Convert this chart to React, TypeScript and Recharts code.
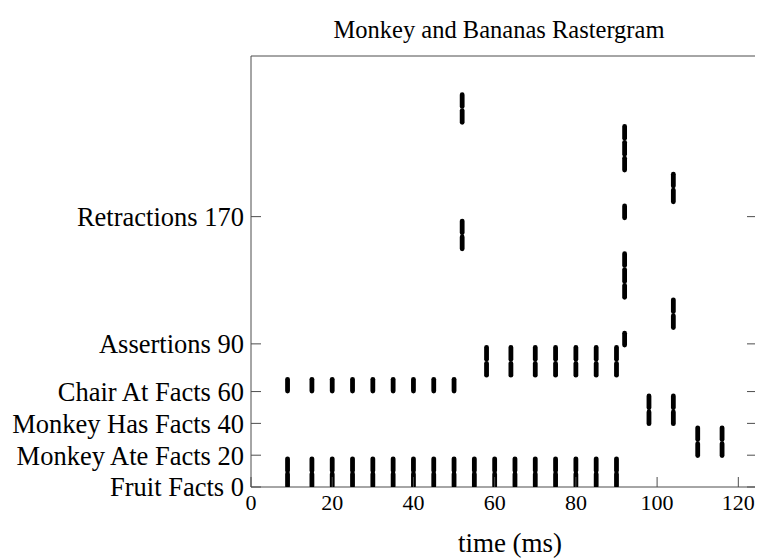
import { ReferenceArea, Scatter, ScatterChart, XAxis, YAxis } from "recharts";

// time (ms) of each spike column, and the fact ids firing there
const fruitTimes = [9, 15, 20, 25, 30, 35, 40, 45, 50, 55, 60, 65, 70, 75, 80, 85, 90];
const fruitIds = [4.5, 14];
const chairTimes = [9, 15, 20, 25, 30, 35, 40, 45, 50];
const chairIds = [64];
const assertTimes = [58, 64, 70, 75, 80, 85, 90];
const assertIds = [74, 84];
const monkeyHasTimes = [98, 104];
const monkeyHasIds = [43.5, 53.5];
const monkeyAteTimes = [110, 116];
const monkeyAteIds = [23.5, 33.5];
const col52Times = [52];
const col52Ids = [153.5, 163.5, 233, 243];
const col92Times = [92];
const col92Ids = [93, 123, 133, 143, 173, 203, 213, 223];
const col104Times = [104];
const col104Ids = [104, 114, 183, 193];

const xTicks = [0, 20, 40, 60, 80, 100, 120];
const rowTicks = [0, 20, 40, 60, 90, 170];
const rowNames = [
  "Fruit Facts 0",
  "Monkey Ate Facts 20",
  "Monkey Has Facts 40",
  "Chair At Facts 60",
  "Assertions 90",
  "Retractions 170",
];

const X_MAX = 124.6;
const Y_MAX = 271;

const groups: [number[], number[]][] = [
  [fruitTimes, fruitIds],
  [chairTimes, chairIds],
  [assertTimes, assertIds],
  [monkeyHasTimes, monkeyHasIds],
  [monkeyAteTimes, monkeyAteIds],
  [col52Times, col52Ids],
  [col92Times, col92Ids],
  [col104Times, col104Ids],
];

const spikes = groups.flatMap(([times, ids]) =>
  times.flatMap((t) => ids.map((id) => ({ t, id })))
);

// chart layout (svg coords)
const W = 755;
const H = 552;
const PLOT_TOP = 48;
const PLOT_LEFT = 243;
const PLOT_RIGHT = 749;
const PLOT_BOTTOM = 479;

const FONT = '"Liberation Serif", "Times New Roman", serif';
const AXIS = "#4d4d4d";
const TICK_LEN = 10;

function SpikeMark(props: any) {
  const { cx, cy } = props;
  if (cx == null || cy == null) return <g />;
  return (
    <line
      x1={cx}
      x2={cx}
      y1={cy - 5.9}
      y2={cy + 5.9}
      stroke="#000"
      strokeWidth={4.8}
      strokeLinecap="round"
    />
  );
}

// pgfplots-style ticks: drawn inward from the frame
function BottomTick(props: any) {
  const { x, payload } = props;
  return (
    <g>
      <line x1={x} x2={x} y1={PLOT_BOTTOM} y2={PLOT_BOTTOM - TICK_LEN} stroke={AXIS} strokeWidth={1} />
      <text
        x={x}
        y={PLOT_BOTTOM + 7}
        dy="0.71em"
        textAnchor="middle"
        fill="#000"
        fontSize={22}
        fontFamily={FONT}
      >
        {payload.value}
      </text>
    </g>
  );
}

function TopTick(props: any) {
  const { x } = props;
  return <line x1={x} x2={x} y1={PLOT_TOP} y2={PLOT_TOP + TICK_LEN} stroke={AXIS} strokeWidth={1} />;
}

function LeftTick(props: any) {
  const { y, payload } = props;
  const i = rowTicks.indexOf(payload.value);
  return (
    <g>
      <line x1={PLOT_LEFT} x2={PLOT_LEFT + TICK_LEN} y1={y} y2={y} stroke={AXIS} strokeWidth={1} />
      <text
        x={PLOT_LEFT - 7}
        y={y}
        dy="0.355em"
        textAnchor="end"
        fill="#000"
        fontSize={26.5}
        fontFamily={FONT}
      >
        {rowNames[i] ?? String(payload.value)}
      </text>
    </g>
  );
}

function RightTick(props: any) {
  const { y } = props;
  return <line x1={PLOT_RIGHT} x2={PLOT_RIGHT - TICK_LEN} y1={y} y2={y} stroke={AXIS} strokeWidth={1} />;
}

export default function App() {
  return (
    <div style={{ position: "relative", width: W, height: H, fontFamily: FONT }}>
      <div
        style={{
          position: "absolute",
          top: 8,
          left: 241,
          width: 500,
          textAlign: "center",
          fontSize: 24.5,
          color: "#000",
        }}
      >
        Monkey and Bananas Rastergram
      </div>
      <ScatterChart
        width={W}
        height={H}
        margin={{ top: PLOT_TOP - 1, right: W - PLOT_RIGHT - 1, bottom: 0, left: 0 }}
      >
        <XAxis
          type="number"
          dataKey="t"
          domain={[0, X_MAX]}
          allowDataOverflow
          ticks={xTicks}
          interval={0}
          height={H - PLOT_BOTTOM}
          axisLine={false}
          tickLine={false}
          tick={BottomTick}
          label={{
            value: "time (ms)",
            position: "insideBottom",
            offset: 8,
            dx: 6,
            fill: "#000",
            fontSize: 27,
            fontFamily: FONT,
          }}
        />
        <XAxis
          xAxisId="top"
          orientation="top"
          type="number"
          domain={[0, X_MAX]}
          allowDataOverflow
          ticks={xTicks}
          interval={0}
          height={1}
          axisLine={false}
          tickLine={false}
          tick={TopTick}
        />
        <YAxis
          type="number"
          dataKey="id"
          domain={[0, Y_MAX]}
          allowDataOverflow
          ticks={rowTicks}
          interval={0}
          width={PLOT_LEFT}
          axisLine={false}
          tickLine={false}
          tick={LeftTick}
        />
        <YAxis
          yAxisId="right"
          orientation="right"
          type="number"
          domain={[0, Y_MAX]}
          allowDataOverflow
          ticks={rowTicks}
          interval={0}
          width={1}
          axisLine={false}
          tickLine={false}
          tick={RightTick}
        />
        <ReferenceArea
          x1={0}
          x2={X_MAX}
          y1={0}
          y2={Y_MAX}
          fill="none"
          stroke={AXIS}
          strokeWidth={1}
        />
        <Scatter
          data={spikes}
          shape={<SpikeMark />}
          isAnimationActive={false}
        />
      </ScatterChart>
    </div>
  );
}
